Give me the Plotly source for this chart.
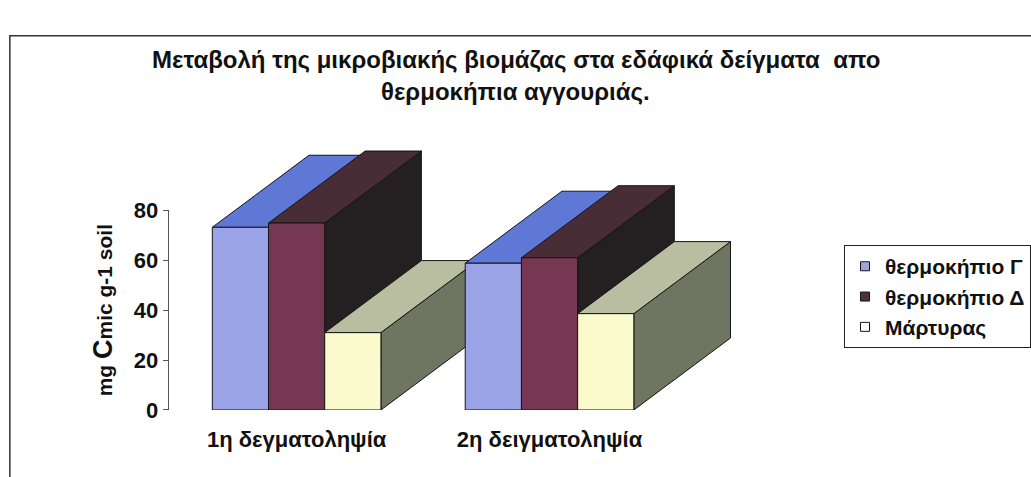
import plotly.graph_objects as go

# ---------------- data ----------------
CATEGORIES = ["1η δεγματοληψία", "2η δειγματοληψία"]
SERIES = ["θερμοκήπιο Γ", "θερμοκήπιο Δ", "Μάρτυρας"]
VALUES_G = [73.2, 58.8]
VALUES_D = [74.9, 61.0]
VALUES_M = [31.0, 38.6]
Y_TICKS = [0, 20, 40, 60, 80]
TITLE_LINES = ["Μεταβολή της μικροβιακής βιομάζας στα εδάφικά δείγματα \u00a0απο",
               "θερμοκήπια αγγουριάς."]
Y_TITLE = "mg <span style='font-size:27px'>C</span>mic g-1 soil"

# ---------------- styles ----------------
FRONT = ["#99a3e6", "#763752", "#fafacd"]
TOP = ["#5f78d6", "#482d37", "#babea0"]
SIDE = ["#4a5aa0", "#242021", "#6e7662"]
LEGEND_FILL = ["#9ea6d8", "#4e3040", "#ffffff"]
EDGE = "#151515"
FONT = "Liberation Sans, Arial, sans-serif"

# ---------------- geometry (pixels) ----------------
W, H = 1031, 477
PX_PER_CAT = 256.4
CAT0_PX = 300.7
PX_PER_UNIT = 2.634
BASE_PX = 420
X_RANGE = [-0.5, 2.0]
Y_RANGE = [0, 115]
BAR_W = 1 / 4.5
DEPTH_X = 98 / PX_PER_CAT
DEPTH_Y = 76 / PX_PER_UNIT

x_dom = [(CAT0_PX + X_RANGE[0] * PX_PER_CAT) / W, (CAT0_PX + X_RANGE[1] * PX_PER_CAT) / W]
y_dom = [(H - BASE_PX) / H, (H - (BASE_PX - Y_RANGE[1] * PX_PER_UNIT)) / H]
y2_dom = [(H - BASE_PX) / H, (H - (BASE_PX - max(Y_TICKS) * PX_PER_UNIT)) / H]

fig = go.Figure()

series_values = [VALUES_G, VALUES_D, VALUES_M]
n_series = len(SERIES)


def face(xs, ys, color):
    fig.add_trace(go.Scatter(
        x=xs + [xs[0]], y=ys + [ys[0]], mode="lines", fill="toself",
        fillcolor=color, line=dict(color=EDGE, width=1),
        hoverinfo="skip", showlegend=False, xaxis="x", yaxis="y"))


for ci, cat in enumerate(CATEGORIES):
    for si in range(n_series):
        v = series_values[si][ci]
        L = ci - n_series * BAR_W / 2 + si * BAR_W
        R = L + BAR_W
        # side face
        face([R, R + DEPTH_X, R + DEPTH_X, R], [0, DEPTH_Y, v + DEPTH_Y, v], SIDE[si])
        # top face
        face([L, R, R + DEPTH_X, L + DEPTH_X], [v, v, v + DEPTH_Y, v + DEPTH_Y], TOP[si])
        # front face
        face([L, R, R, L], [0, 0, v, v], FRONT[si])

# legend entries
for si, name in enumerate(SERIES):
    fig.add_trace(go.Scatter(
        x=[None], y=[None], mode="markers", name=name,
        marker=dict(symbol="square", size=9, color=LEGEND_FILL[si],
                    line=dict(color=EDGE, width=1)),
        xaxis="x", yaxis="y"))

# dummy trace for the value axis
fig.add_trace(go.Scatter(x=[None], y=[None], xaxis="x", yaxis="y2",
                         showlegend=False, hoverinfo="skip"))

annotations = []
title_y_px = [50, 84]
for line, ypx in zip(TITLE_LINES, title_y_px):
    annotations.append(dict(
        text=line, xref="paper", yref="paper", x=523 / W, y=(H - ypx) / H,
        xanchor="center", yanchor="middle", showarrow=False,
        font=dict(family=FONT, size=24, color="#111", weight="bold")))

fig.update_layout(
    width=W, height=H, autosize=False,
    margin=dict(l=0, r=0, t=0, b=0),
    paper_bgcolor="white", plot_bgcolor="rgba(0,0,0,0)",
    font=dict(family=FONT, color="#111"),
    xaxis=dict(domain=x_dom, range=X_RANGE, tickvals=list(range(len(CATEGORIES))),
               ticktext=CATEGORIES, showgrid=False, zeroline=False, showline=False,
               ticks="", ticklabelstandoff=14, anchor="y",
               tickfont=dict(family=FONT, size=22, color="#111", weight="bold")),
    yaxis=dict(domain=y_dom, range=Y_RANGE, visible=False, anchor="x"),
    yaxis2=dict(domain=y2_dom, range=[Y_TICKS[0], Y_TICKS[-1]], tickvals=Y_TICKS,
                anchor="free", position=170 / W, side="left",
                showgrid=False, zeroline=False, showline=True, linecolor="#555",
                linewidth=1, ticks="outside", ticklen=5, tickcolor="#555",
                tickfont=dict(family=FONT, size=22, color="#111", weight="bold"),
                title=dict(text=Y_TITLE, standoff=14,
                           font=dict(family=FONT, size=21, color="#111", weight="bold"))),
    legend=dict(x=856 / W, y=(H - 246) / H, xanchor="left", yanchor="top",
                bordercolor="#222", borderwidth=1, bgcolor="white",
                tracegroupgap=0,
                font=dict(family=FONT, size=21, color="#111", weight="bold")),
    annotations=annotations,
    shapes=[dict(type="rect", xref="paper", yref="paper",
                 x0=10 / W, x1=1.05, y0=-0.2, y1=(H - 25) / H,
                 line=dict(color="#333", width=1.5), fillcolor="rgba(0,0,0,0)",
                 layer="below")],
)

fig.write_html("out.html")
